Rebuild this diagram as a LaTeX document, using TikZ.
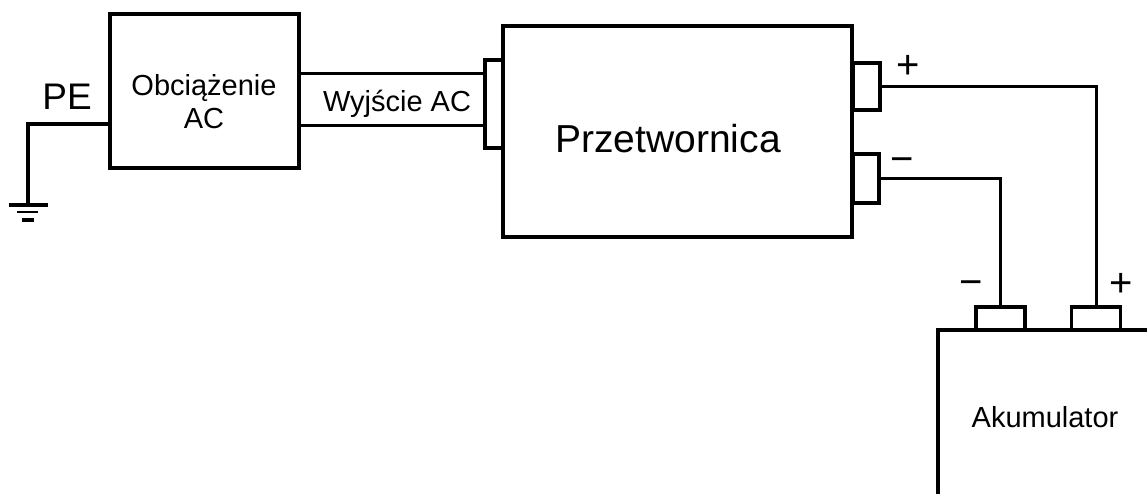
\documentclass[tikz,border=0pt]{standalone}
\usepackage{fontspec}
\setmainfont{Liberation Sans}
\usetikzlibrary{positioning, calc}

\begin{document}
\begin{tikzpicture}
    [x=1pt, y=-1pt,
     box/.style={draw, line width=3.2pt, inner sep=0pt},
     term/.style={draw, line width=3.1pt, inner sep=0pt},
     wire/.style={line width=3pt, line join=miter},
     big/.style={font=\fontsize{39}{44}\selectfont},
     mid/.style={font=\fontsize{29}{33}\selectfont, align=center},
     sign/.style={font=\fontsize{40}{44}\selectfont, inner sep=0pt}]

    \useasboundingbox (0,0) rectangle (1147,494);

    % blocks
    \node[box, minimum width=189pt, minimum height=154pt] (load) at (204.5,91) {};
    \node[mid] (loadtext) at (204,102) {Obciążenie\\AC};

    \node[box, minimum width=349pt, minimum height=211pt] (conv) at (677.5,131.5) {};
    \node[big] (convtext) at (668,139) {Przetwornica};

    % terminals of the inverter
    \node[term, minimum width=18pt, minimum height=88pt] (acin) at (494,104) {};
    \node[term, minimum width=27pt, minimum height=47pt] (pplus) at (866.5,86.5) {};
    \node[term, minimum width=26pt, minimum height=49pt] (pminus) at (866,178.5) {};

    % battery
    \draw[line width=3.2pt, line join=miter] (1160,330) -- (938,330) -- (938,510);
    \node[mid] (batt) at (1045,417) {Akumulator};
    \node[term, minimum width=49pt, minimum height=23pt] (bminus) at (1000.5,318.5) {};
    \node[term, minimum width=49pt, minimum height=23pt] (bplus) at (1096,318.5) {};

    % AC cable
    \draw[wire] ($(acin.west)+(0,30pt)$) -- ($(load.east)+(0,17pt)$);
    \draw[wire] ($(acin.west)+(0,-22pt)$) -- ($(load.east)+(0,-35pt)$);
    \node[mid] (acout) at (397,104) {Wyjście AC};

    % protective earth
    \coordinate (gnd) at (28,205);
    \draw[wire, line width=3.2pt] ($(load.west)+(0,-33pt)$) -| (gnd);
    \draw[line width=3.2pt] ($(gnd)+(-19,0)$) -- ($(gnd)+(20,0)$);
    \draw[line width=2.4pt] ($(gnd)+(-11,7)$) -- ($(gnd)+(10,7)$);
    \draw[line width=3.6pt] ($(gnd)+(-6,15)$) -- ($(gnd)+(6,15)$);
    \node[font=\fontsize{37}{40}\selectfont] (pe) at (67,97) {PE};

    % DC wires
    \draw[wire] (pplus.east) -| (bplus.north);
    \draw[wire] (pminus.east) -| (bminus.north);

    \node[sign] (l1) at (908,67) {+};
    \node[sign] (l2) at (902,165) {−};
    \node[sign] (l3) at (971,288) {−};
    \node[sign] (l4) at (1121,285) {+};
\end{tikzpicture}
\end{document}
